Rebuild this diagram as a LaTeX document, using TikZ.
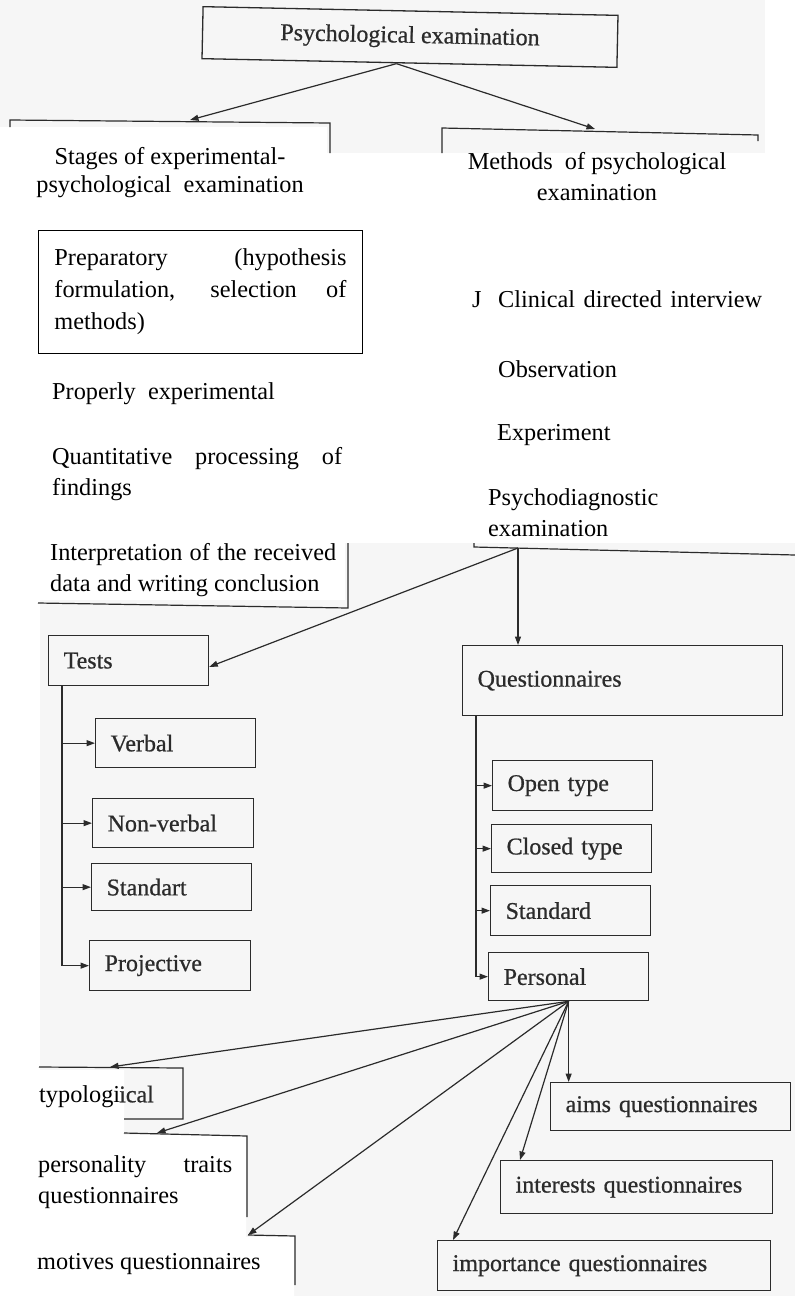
\documentclass[tikz,border=0pt]{standalone}
\usepackage{fontspec}
\setmainfont{Liberation Serif}
\newfontfamily\scanfont{Liberation Serif}[FakeBold=0.7]
\usetikzlibrary{arrows.meta,calc}

\definecolor{scanink}{HTML}{2B2B2B}
\definecolor{scanbg}{HTML}{F6F6F6}
\newcommand\ovsize{\fontsize{24.3}{31}\selectfont}
\newcommand\scsize{\scanfont\fontsize{24}{29}\selectfont}

\begin{document}
\begin{tikzpicture}[x=1pt,y=-1pt,
  ov/.style={anchor=mid west, inner sep=0pt, font=\ovsize, text=black},
  sc/.style={anchor=mid west, inner sep=0pt, font=\scsize, text=scanink},
  sbox/.style={draw=scanink, line width=1.3pt, anchor=north west, inner xsep=15pt,
               inner ysep=0pt, align=left, font=\scsize, text=scanink},
  sline/.style={draw=scanink, line width=1.2pt},
  arr/.style={sline, -{Triangle[length=8.5pt,width=6pt]}}]
\useasboundingbox (0,0) rectangle (795,1296);
\fill[white] (0,0) rectangle (795,1296);

% scanned page tint and the white pasted-over areas
\fill[scanbg] (0,0) rectangle (765,153);
\fill[white] (0,127) rectangle (327,153);
\fill[scanbg] (40,543) rectangle (795,1296);
\fill[white] (40,543) rectangle (345,600);
\fill[white] (40,1070) -- (124,1070) -- (124,1135) -- (246,1135) -- (246,1237)
  -- (294,1237) -- (294,1296) -- (40,1296) -- cycle;

% top of the scheme
\node[sbox, anchor=center, rotate=-1.2, minimum width=415pt, minimum height=52pt,
      inner xsep=0pt, align=center] (title) at (410,37) {Psychological examination};
\coordinate (stagesTip) at (190,120);
\coordinate (methTip) at (595,129);
\draw[arr] ([xshift=-13pt]title.south) -- (stagesTip);
\draw[arr] ([xshift=-13pt]title.south) -- (methTip);
\draw[sline] (10,127) -- (10,120) -- (330,123) -- (330,153);
\draw[sline] (442,153) -- (442,128) -- (758,135) -- (758,141);

\node[ov, anchor=center, align=center, font=\fontsize{24.3}{28}\selectfont] (stages) at (170,173)
  {Stages of experimental-\\psychological\ \ examination};
\node[ov, anchor=center, align=center, font=\fontsize{24.3}{31}\selectfont] (methods) at (597,177)
  {Methods\ \ of psychological\\examination};

% stages of the examination
\node[draw=black, line width=0.9pt, anchor=north west, minimum width=324pt,
      minimum height=123pt, inner xsep=15pt, align=left,
      font=\fontsize{24.3}{32}\selectfont] (prep) at (38,230)
  {\makebox[292pt][s]{Preparatory (hypothesis}\\
   \makebox[292pt][s]{formulation, selection of}\\
   methods)};
\node[ov] (proper) at (52,397) {Properly\ \ experimental};
\node[ov, align=left] (quant) at (52,493)
  {\makebox[290pt][s]{Quantitative processing of}\\findings};
\node[ov, align=left] (interp) at (50,589)
  {\makebox[286pt][s]{Interpretation of the received}\\data and writing conclusion};

% methods of the examination
\node[ov] (jmark) at (472,305) {J};
\node[ov] (clin) at (498,305) {\makebox[264pt][s]{Clinical directed interview}};
\node[ov] (obs) at (498,375) {Observation};
\node[ov] (exper) at (497,438) {Experiment};
\node[ov, align=left] (psydiag) at (488,534) {Psychodiagnostic\\examination};

% lower part of the scheme
\draw[sline] (38,603) -- (348,608) -- (348,543);
\draw[sline] (474,543) -- (474,547) -- (795,555);
\coordinate (pj) at (518,548);

\node[sbox, text width=130pt, minimum height=50pt] (tests) at (48,635) {Tests};
\node[sbox, text width=130pt, minimum height=49pt] (verbal) at (95,718) {Verbal};
\node[sbox, text width=131pt, minimum height=49pt] (nonverbal) at (92,798) {Non-verbal};
\node[sbox, text width=130pt, minimum height=47pt] (standart) at (91,863) {Standart};
\node[sbox, text width=131pt, minimum height=50pt] (projective) at (89,940) {Projective};

\node[sbox, text width=290pt, minimum height=70pt] (quest) at (462,645) {Questionnaires};
\node[sbox, text width=130pt, minimum height=50pt] (open) at (492,760) {Open type};
\node[sbox, text width=130pt, minimum height=48pt] (closed) at (491,824) {Closed type};
\node[sbox, text width=130pt, minimum height=50pt] (standard) at (490,885) {Standard};
\node[sbox, text width=130pt, minimum height=48pt] (personal) at (488,952) {Personal};

\node[sbox, text width=210pt, minimum height=48pt] (aims) at (550,1082) {aims questionnaires};
\node[sbox, text width=242pt, minimum height=53pt] (interests) at (500,1160) {interests questionnaires};
\node[sbox, text width=303pt, minimum height=50pt] (importance) at (437,1240) {importance questionnaires};

\draw[arr] (pj) -- ($(tests.north east)!0.62!(tests.south east)$);
\draw[arr] (pj) -- (pj |- quest.north);

\coordinate (tt) at ([xshift=14pt]tests.south west);
\draw[arr] (tt) |- (projective.west);
\foreach \n in {verbal,nonverbal,standart} \draw[arr] (tt |- \n.west) -- (\n.west);

\coordinate (qt) at ([xshift=14pt]quest.south west);
\draw[arr] (qt) |- (personal.west);
\foreach \n in {open,closed,standard} \draw[arr] (qt |- \n.west) -- (\n.west);

% kinds of personal questionnaires
\coordinate (typTip) at (110,1067);
\coordinate (perTip) at (157,1133);
\coordinate (motTip) at (248,1235);
\draw[arr] (personal.south) -- (typTip);
\draw[arr] (personal.south) -- (perTip);
\draw[arr] (personal.south) -- (motTip);
\draw[arr] (personal.south) -- ([xshift=16pt]importance.north west);
\draw[arr] (personal.south) -- ([xshift=20pt]interests.north west);
\draw[arr] (personal.south) -- (personal.south |- aims.north);

\draw[sline] (39,1067) -- (183,1068) -- (183,1119) -- (124,1119);
\draw[sline] (124,1133) -- (247,1136) -- (247,1217);
\draw[sline] (248,1235) -- (295,1236) -- (295,1285);

\node[ov] (typo) at (39,1100) {typologi};
\node[sc] (typoend) at (119,1100) {ical};
\node[ov, align=left] (traits) at (38,1201)
  {\makebox[194pt][s]{personality traits}\\questionnaires};
\node[ov] (motives) at (37,1267) {motives questionnaires};
\end{tikzpicture}
\end{document}
